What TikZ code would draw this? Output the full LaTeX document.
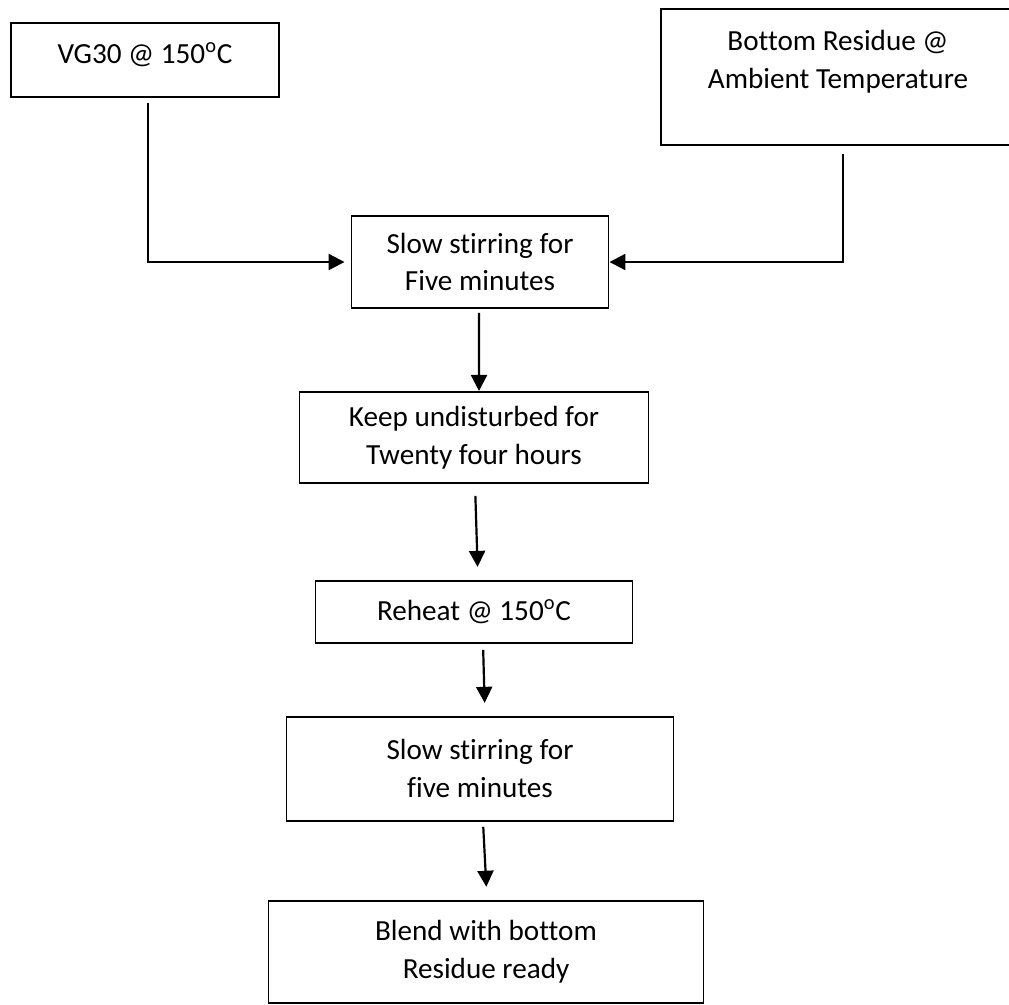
\documentclass[tikz,border=0pt]{standalone}
\usepackage{fontspec}
\setmainfont{Carlito}[Ligatures={NoCommon}]
\usetikzlibrary{arrows.meta, positioning}
\newcommand{\flowfont}{\fontsize{16.6}{21.5}\selectfont}
\tikzset{
  stage/.style  = {rectangle, draw=black, line width=1.1pt,
                   minimum width=#1, align=center, font=\flowfont,
                   inner sep=0pt},
  stage/.default = 5cm,
  caption/.style = {align=center, font=\flowfont, inner sep=0pt},
  arr/.style    = {-{Triangle[length=0.32cm, width=0.32cm]}, line width=1.25pt},
}

\begin{document}
\begin{tikzpicture}
  \useasboundingbox (0,0) rectangle (20.18,-20.08);

  %% --- Inputs ---
  \node[stage=5.36cm, minimum height=1.48cm] (vg30) at (2.9,-1.2) {};
  \node[caption] at ([yshift=0.1cm]vg30.center) {VG30 @ 150\textsuperscript{o}C};

  \node[stage=7.08cm, minimum height=2.72cm] (resid) at (16.76,-1.54) {};
  \node[caption] at ([yshift=0.3cm]resid.center) {Bottom Residue @\\Ambient Temperature};

  %% --- Process chain ---
  \node[stage=5.14cm, minimum height=1.84cm] (stir1) at (9.6,-5.24)
        {Slow stirring for\\Five minutes};
  \node[stage=6.98cm, minimum height=1.82cm,
        below=1.64cm of stir1, xshift=-0.12cm] (keep)
        {Keep undisturbed for\\Twenty four hours};
  \node[stage=6.34cm, minimum height=1.24cm,
        below=1.92cm of keep] (reheat)
        {Reheat @ 150\textsuperscript{o}C};
  \node[stage=7.74cm, minimum height=2.08cm,
        below=1.44cm of reheat, xshift=0.12cm] (stir2)
        {Slow stirring for\\five minutes};
  \node[stage=8.7cm, minimum height=2.04cm,
        below=1.56cm of stir2, xshift=0.12cm] (blend)
        {Blend with bottom\\Residue ready};

  %% --- Arrows ---
  \draw[arr, shorten >=0.12cm] ([xshift=0.06cm, yshift=-0.1cm]vg30.south)
        |- (stir1.west);
  \draw[arr] ([xshift=0.1cm, yshift=-0.16cm]resid.south) |- (stir1.east);

  \draw[arr, shorten <=0.08cm] ([xshift=-0.02cm]stir1.south)
        -- ([xshift=0.1cm]keep.north);
  \draw[arr, shorten <=0.24cm, shorten >=0.26cm] ([xshift=0.02cm]keep.south)
        -- ([xshift=0.08cm]reheat.north);
  \draw[arr, shorten <=0.12cm, shorten >=0.26cm] ([xshift=0.18cm]reheat.south)
        -- ([xshift=0.1cm]stir2.north);
  \draw[arr, shorten <=0.1cm, shorten >=0.26cm] ([xshift=0.06cm]stir2.south)
        -- ([xshift=0.02cm]blend.north);

\end{tikzpicture}
\end{document}
